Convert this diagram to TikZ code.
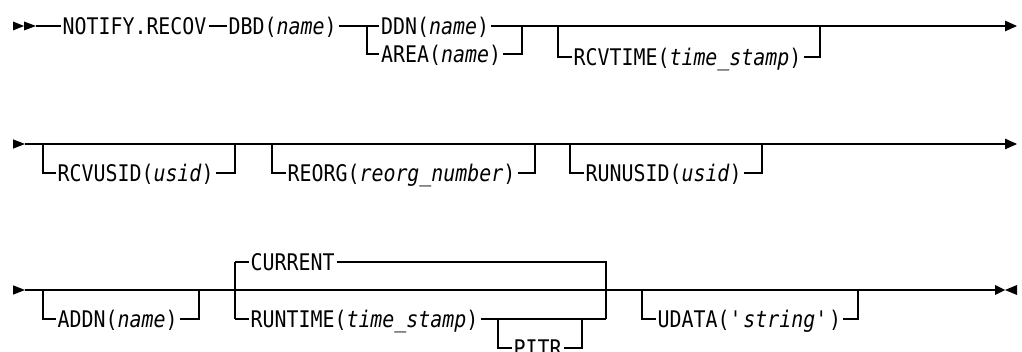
\documentclass[tikz,border=0pt]{standalone}
\usepackage{fontspec}
\newfontfamily\dmono[FakeStretch=0.87]{DejaVu Sans Mono}
\usetikzlibrary{arrows.meta}
\begin{document}
\begin{tikzpicture}[x=1pt,y=-1pt,line width=1.1pt,
  kw/.style={font=\dmono\fontsize{22.9}{26}\selectfont, inner sep=0pt, inner xsep=1.5pt,
             text height=16.7pt, text depth=0pt, anchor=west},
  endarrow/.style={-{Triangle[length=12pt,width=10.5pt]}},
  thickseg/.style={line width=2.4pt}]
\useasboundingbox (0,0) rectangle (1022,352);

% ---------- row 1 ----------
\fill (13,21.5) -- (24,26) -- (13,30.5) -- cycle;
\fill (24,21.5) -- (36,26) -- (24,30.5) -- cycle;
\coordinate (r1s) at (36,26);
\node[kw] (notify) at (60.5,26) {NOTIFY.RECOV};
\node[kw] (dbd) at (226.5,26) {DBD(\textit{name})};
\coordinate (c1a) at (367,26); \coordinate (c1al) at (367,54);
\node[kw] (ddn) at (379,26) {DDN(\textit{name})};
\node[kw] (area) at (379,54) {AREA(\textit{name})};
\coordinate (c1b) at (522,26); \coordinate (c1bl) at (522,54);
\coordinate (c1c) at (558,26); \coordinate (c1cl) at (558,57);
\node[kw] (rcvtime) at (571.5,57) {RCVTIME(\textit{time\_stamp})};
\coordinate (c1d) at (820,26); \coordinate (c1dl) at (820,57);
\coordinate (r1e) at (1017,26);

\draw (r1s) -- (notify.west);
\draw (notify.east) -- (dbd.west);
\draw (dbd.east) -- (c1a) -- (ddn.west);
\draw (c1a) -- (c1al) -- (area.west);
\draw (ddn.east) -- (c1b);
\draw (area.east) -- (c1bl) -- (c1b);
\draw (c1b) -- (c1c) -- (c1d);
\draw (c1c) -- (c1cl) -- (rcvtime.west);
\draw (rcvtime.east) -- (c1dl) -- (c1d);
\draw[endarrow] (c1d) -- (r1e);

% ---------- row 2 ----------
\fill (13,139.3) -- (25,144) -- (13,148.7) -- cycle;
\coordinate (r2s) at (25,144);
\coordinate (c2a) at (43,144); \coordinate (c2al) at (43,173);
\node[kw] (rcvusid) at (55.5,173) {RCVUSID(\textit{usid})};
\coordinate (c2b) at (235,144); \coordinate (c2bl) at (235,173);
\coordinate (c2c) at (272,144); \coordinate (c2cl) at (272,173);
\node[kw] (reorg) at (285.5,173) {REORG(\textit{reorg\_number})};
\coordinate (c2d) at (535,144); \coordinate (c2dl) at (535,173);
\coordinate (c2e) at (570,144); \coordinate (c2el) at (570,173);
\node[kw] (runusid) at (583.5,173) {RUNUSID(\textit{usid})};
\coordinate (c2f) at (762,144); \coordinate (c2fl) at (762,173);
\coordinate (r2e) at (1017,144);

\draw (r2s) -- (c2a) -- (c2b) -- (c2c) -- (c2d) -- (c2e) -- (c2f);
\draw[endarrow] (c2f) -- (r2e);
\draw (c2a) -- (c2al) -- (rcvusid.west);
\draw (rcvusid.east) -- (c2bl) -- (c2b);
\draw (c2c) -- (c2cl) -- (reorg.west);
\draw (reorg.east) -- (c2dl) -- (c2d);
\draw (c2e) -- (c2el) -- (runusid.west);
\draw (runusid.east) -- (c2fl) -- (c2f);

% ---------- row 3 ----------
\fill (13,285.3) -- (25,290) -- (13,294.7) -- cycle;
\coordinate (r3s) at (25,290);
\coordinate (c3a) at (43,290); \coordinate (c3al) at (43,319);
\node[kw] (addn) at (55.5,319) {ADDN(\textit{name})};
\coordinate (c3b) at (199,290); \coordinate (c3bl) at (199,319);
\coordinate (c3c) at (235,290); \coordinate (c3ct) at (235,262); \coordinate (c3cl) at (235,319);
\node[kw] (current) at (248.5,262) {CURRENT};
\node[kw] (runtime) at (248.5,319) {RUNTIME(\textit{time\_stamp})};
\coordinate (c3p) at (498,319); \coordinate (c3pl) at (498,348);
\node[kw] (pitr) at (511.5,348) {PITR};
\coordinate (c3q) at (582,319); \coordinate (c3ql) at (582,348);
\coordinate (c3d) at (606,290); \coordinate (c3dt) at (606,262); \coordinate (c3dl) at (606,319);
\coordinate (c3e) at (642,290); \coordinate (c3el) at (642,319);
\node[kw] (udata) at (655.5,319) {UDATA(\textquotesingle\textit{string}\textquotesingle)};
\coordinate (c3f) at (858,290); \coordinate (c3fl) at (858,319);
\coordinate (t1) at (863,290); \coordinate (t2) at (887,290);
\coordinate (r3e) at (995,290);

\draw (r3s) -- (c3a) -- (c3b) -- (c3c) -- (c3d) -- (c3e) -- (c3f) -- (r3e);
\draw (c3a) -- (c3al) -- (addn.west);
\draw (addn.east) -- (c3bl) -- (c3b);
\draw (c3ct) -- (c3cl);
\draw (c3ct) -- (current.west);
\draw (current.east) -- (c3dt) -- (c3dl);
\draw (c3cl) -- (runtime.west);
\draw (runtime.east) -- (c3p) -- (c3q) -- (c3dl);
\draw (c3p) -- (c3pl) -- (pitr.west);
\draw (pitr.east) -- (c3ql) -- (c3q);
\draw (c3e) -- (c3el) -- (udata.west);
\draw (udata.east) -- (c3fl) -- (c3f);
\draw[thickseg] (t1) -- (t2);
\fill (995,285) -- (1005,290) -- (995,295) -- cycle;
\fill (1017,285) -- (1005,290) -- (1017,295) -- cycle;
\end{tikzpicture}
\end{document}
